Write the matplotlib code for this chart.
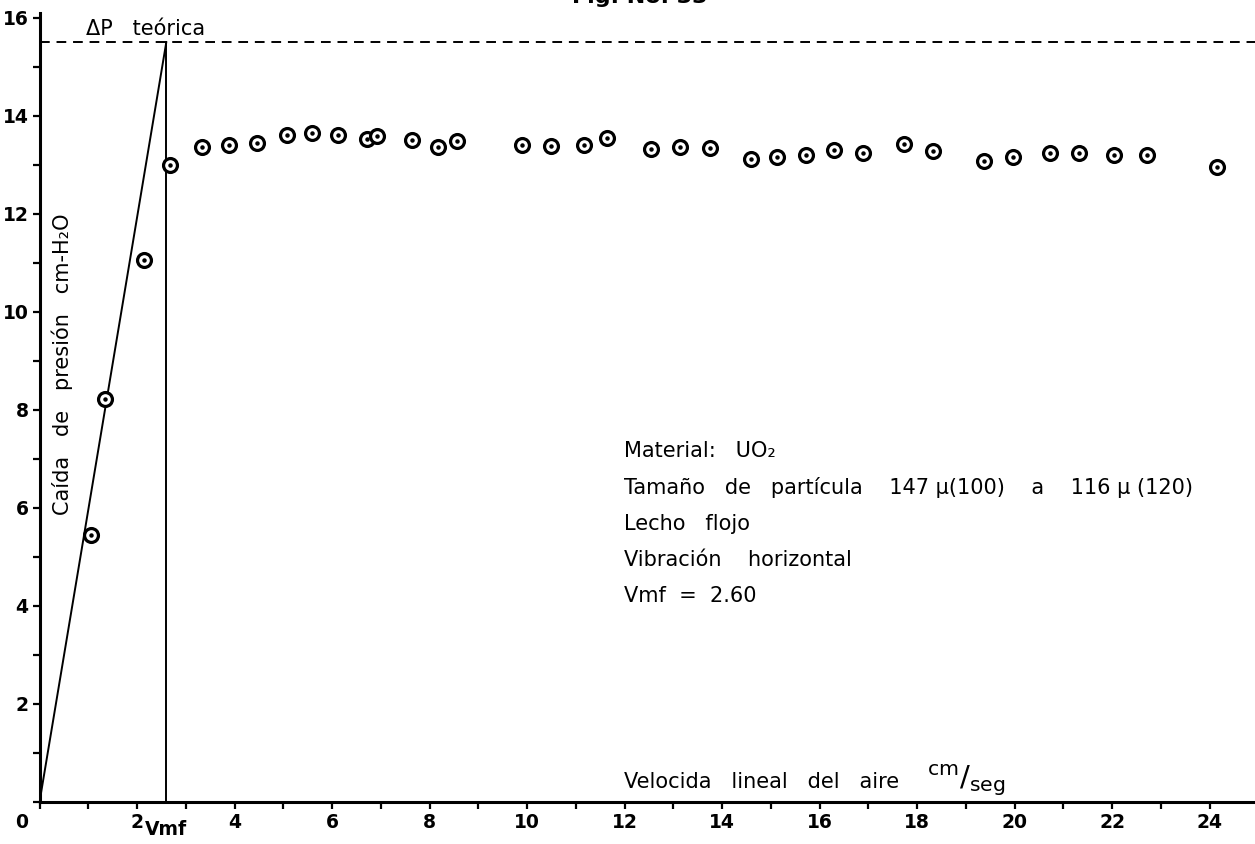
import matplotlib
matplotlib.use("Agg")
import matplotlib.pyplot as plt
from matplotlib.ticker import MultipleLocator, FixedLocator
from matplotlib.transforms import ScaledTranslation

# Air velocity (cm/s) and measured pressure drop (cm H2O)
velocity = [1.06, 1.35, 2.15, 2.68, 3.33, 3.88, 4.46, 5.08, 5.58, 6.12,
            6.72, 6.92, 7.63, 8.18, 8.57, 9.90, 10.49, 11.16, 11.63, 12.54,
            13.14, 13.76, 14.59, 15.12, 15.73, 16.30, 16.88, 17.73, 18.33,
            19.37, 19.97, 20.73, 21.31, 22.04, 22.72, 24.15]
pressure_drop = [5.45, 8.22, 11.05, 13.00, 13.36, 13.40, 13.45, 13.61, 13.65,
                 13.61, 13.52, 13.59, 13.51, 13.36, 13.48, 13.40, 13.39, 13.41,
                 13.55, 13.33, 13.36, 13.35, 13.12, 13.16, 13.19, 13.30, 13.24,
                 13.43, 13.29, 13.08, 13.15, 13.24, 13.25, 13.19, 13.20, 12.95]

vmf = 2.60          # minimum fluidisation velocity
dp_theoretical = 15.5

x_ticks = [0, 2, 4, 6, 8, 10, 12, 14, 16, 18, 20, 22, 24]
y_ticks = [2, 4, 6, 8, 10, 12, 14, 16]

info_lines = [
    "Material:   UO₂",
    "Tamaño   de   partícula    147 µ(100)    a    116 µ (120)",
    "Lecho   flojo",
    "Vibración    horizontal",
    "Vmf  =  2.60",
]

plt.rcParams["font.family"] = ["DejaVu Sans"]

fig = plt.figure(figsize=(12.55, 8.44), dpi=100)
ax = fig.add_axes([0.0315, 0.0498, 0.9685, 0.935])
ax.set_xlim(0, 24.93)
ax.set_ylim(0, 16.1)

for side in ("top", "right"):
    ax.spines[side].set_visible(False)
for side in ("left", "bottom"):
    ax.spines[side].set_linewidth(2.2)

ax.xaxis.set_major_locator(FixedLocator(x_ticks))
ax.xaxis.set_minor_locator(MultipleLocator(1))
ax.yaxis.set_major_locator(FixedLocator(y_ticks))
ax.yaxis.set_minor_locator(MultipleLocator(1))
ax.tick_params(which="both", direction="out", length=5, width=1.6,
               labelsize=13.5, pad=3)
ax.set_xticklabels([str(v) for v in x_ticks], fontweight="bold")
ax.set_yticklabels([str(v) for v in y_ticks], fontweight="bold")
# shift the origin label left of the axis
lbl0 = ax.get_xticklabels()[0]
lbl0.set_transform(lbl0.get_transform() + ScaledTranslation(-0.18, 0, fig.dpi_scale_trans))

# theoretical pressure drop, fixed-bed line and Vmf marker
ax.plot([0, 24.93], [dp_theoretical, dp_theoretical], color="black",
        lw=1.4, ls=(0, (5, 3.5)), clip_on=False)
ax.plot([0, vmf], [0, dp_theoretical], color="black", lw=1.4)
ax.plot([vmf, vmf], [0, dp_theoretical], color="black", lw=1.4)

# measured points: ring with centre dot
ax.plot(velocity, pressure_drop, ls="none", marker="o", ms=10,
        mfc="white", mec="black", mew=2.3, zorder=5)
ax.plot(velocity, pressure_drop, ls="none", marker="o", ms=2.2,
        mfc="black", mec="black", zorder=6)

txt = dict(color="black", fontsize=15)
ax.text(0.95, 15.78, "ΔP   teórica", ha="left", va="center", **txt)
for i, line in enumerate(info_lines):
    ax.text(11.98, 7.16 - i * 0.74, line, ha="left", va="center", **txt)

ax.text(11.98, 0.41, "Velocida   lineal   del   aire",
        ha="left", va="center", **txt)
ax.text(18.2, 0.43, "$^{\\mathrm{cm}}/_{\\mathrm{seg}}$",
        ha="left", va="center", color="black", fontsize=21)
ax.text(0.46, 8.94, "Caída   de   presión   cm-H₂O", rotation=90,
        ha="center", va="center", **txt)
ax.text(vmf, -0.57, "Vmf", ha="center", va="center", fontweight="bold",
        fontsize=13.5, clip_on=False)

fig.text(0.51, 1.004, "Fig. No. 33", ha="center", va="center",
         fontsize=16, fontweight="bold")

fig.savefig("out.png", dpi=100, facecolor="white")
